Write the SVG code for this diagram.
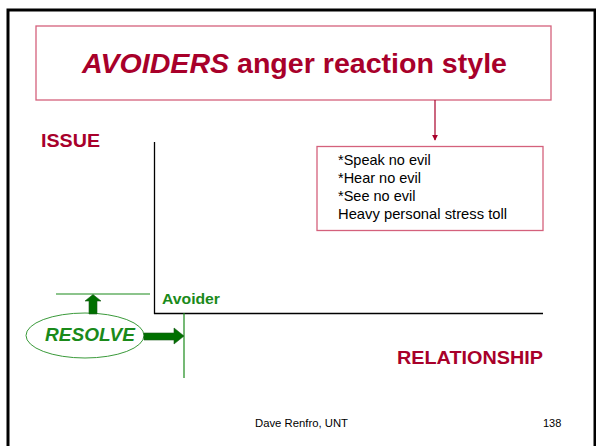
<svg xmlns="http://www.w3.org/2000/svg" width="596" height="446" viewBox="0 0 596 446">
  <style>
    .frame { fill: none; stroke: #000; stroke-width: 3; }
    .pinkbox { fill: #fff; stroke: #d4617c; stroke-width: 1.3; }
    .red { fill: #a8002a; font-family: "Liberation Sans", Arial, sans-serif; font-weight: bold; }
    .note { fill: #000; font-family: "Liberation Sans", Arial, sans-serif; font-size: 14.5px; }
    .green { fill: #1a8a1a; font-family: "Liberation Sans", Arial, sans-serif; font-weight: bold; }
    .axis { stroke: #000; stroke-width: 1.3; fill: none; }
    .gline { stroke: #1a8a1a; stroke-width: 1.2; fill: none; }
    .garrow { fill: #007000; stroke: #1a5a1a; stroke-width: 0.6; }
    .footer { fill: #000; font-family: "Liberation Sans", Arial, sans-serif; font-size: 11px; }
  </style>
  <defs>
    <marker id="tip" viewBox="0 0 8 8" refX="7" refY="4" markerWidth="5" markerHeight="5" orient="auto">
      <path d="M0,0 L8,4 L0,8 Z" fill="#a8002a"/>
    </marker>
  </defs>

  <rect width="596" height="446" fill="#fff"/>
  <!-- slide frame -->
  <rect class="frame" x="8" y="10" width="587" height="450"/>

  <!-- title -->
  <g id="title">
    <rect class="pinkbox" x="36" y="26" width="515" height="74"/>
    <text class="red" x="82" y="73" font-size="28" textLength="425" lengthAdjust="spacingAndGlyphs"><tspan font-style="italic">AVOIDERS</tspan> anger reaction style</text>
  </g>

  <!-- axes -->
  <g id="axes">
    <line class="axis" x1="154.5" y1="142" x2="154.5" y2="314"/>
    <line class="axis" x1="154" y1="313.5" x2="543" y2="313.5"/>
    <text id="issue" class="red" x="41" y="147" font-size="18" textLength="59" lengthAdjust="spacingAndGlyphs">ISSUE</text>
    <text id="relationship" class="red" x="397" y="364" font-size="18" textLength="146" lengthAdjust="spacingAndGlyphs">RELATIONSHIP</text>
  </g>

  <!-- traits box -->
  <g id="traits">
    <rect class="pinkbox" x="317" y="146.5" width="226" height="84"/>
    <text class="note" x="338" y="165">*Speak no evil</text>
    <text class="note" x="338" y="183">*Hear no evil</text>
    <text class="note" x="338" y="201">*See no evil</text>
    <text class="note" x="338" y="219" textLength="169" lengthAdjust="spacingAndGlyphs">Heavy personal stress toll</text>
  </g>

  <!-- resolve marker -->
  <g id="resolve">
    <ellipse cx="85" cy="335.5" rx="59" ry="22.5" fill="#fff" stroke="#3a9a3a" stroke-width="1"/>
    <text class="green" x="45" y="341" font-size="19" font-style="italic" textLength="90" lengthAdjust="spacingAndGlyphs">RESOLVE</text>
  </g>

  <g id="avoider">
    <text class="green" x="162" y="304" font-size="15" textLength="58" lengthAdjust="spacingAndGlyphs">Avoider</text>
  </g>

  <!-- connectors -->
  <g id="connectors">
    <line x1="435" y1="100" x2="435" y2="140" stroke="#a8002a" stroke-width="1.2" marker-end="url(#tip)"/>
    <line class="gline" x1="56" y1="294" x2="150" y2="294"/>
    <line class="gline" x1="184" y1="313" x2="184" y2="378"/>
    <path class="garrow" d="M89,314 L89,301 L85,301 L93,294.5 L101,301 L97,301 L97,314 Z"/>
    <path class="garrow" d="M144,333 L174,333 L174,328 L184,336 L174,344 L174,340 L144,340 Z"/>
  </g>

  <!-- footer -->
  <g id="footer">
    <text class="footer" x="255" y="427" textLength="93" lengthAdjust="spacingAndGlyphs">Dave Renfro, UNT</text>
    <text class="footer" x="543" y="427">138</text>
  </g>
</svg>
